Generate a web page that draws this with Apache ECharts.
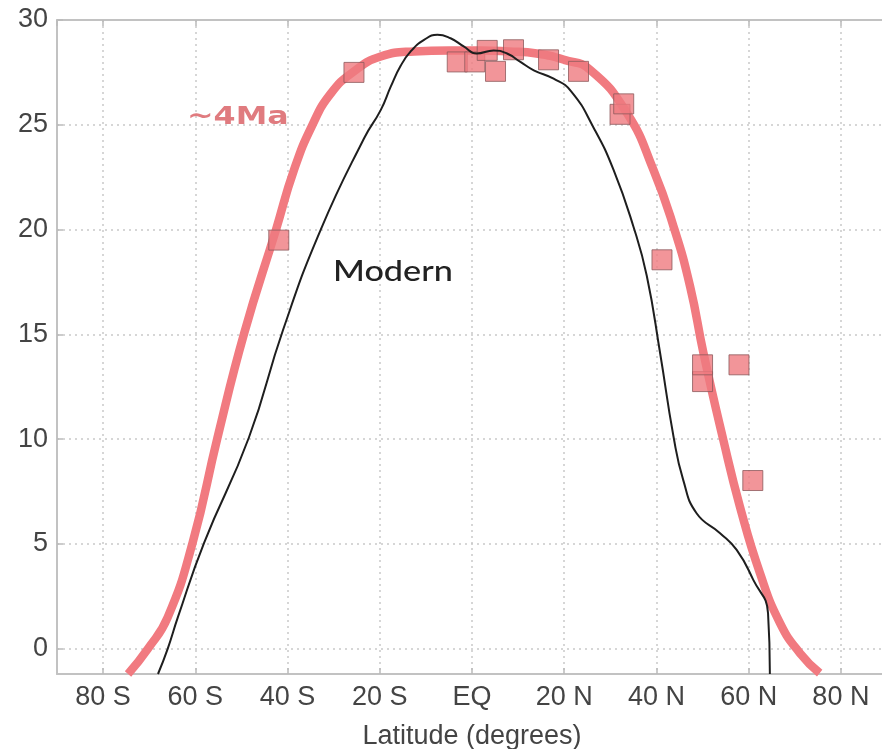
<!DOCTYPE html>
<html>
<head>
<meta charset="utf-8">
<script src="https://cdn.jsdelivr.net/npm/echarts@6/dist/echarts.min.js"></script>
<style>
  html, body { margin: 0; padding: 0; background: #ffffff; }
  #chart { width: 882px; height: 749px; }
</style>
</head>
<body>
<div id="chart"></div>
<script>
// ~4Ma fitted curve (latitude, degrees; temperature)
const redLat = [-74.6, -70.3, -66, -60.6, -55.2, -49.4, -42.5, -38.6, -34.6, -30.6, -25.6, -19.8, -12.6, -5, 2, 8, 14, 20, 25.65, 33.6, 39.35, 43.7, 47.3, 50.2, 54.5, 58.1, 62.45, 66.8, 71.1, 75.4];
const redVal = [-1.2, 0, 1.5, 5.06, 10.07, 15.06, 20.0, 22.85, 25.0, 26.5, 27.55, 28.26, 28.5, 28.55, 28.55, 28.5, 28.4, 28.1, 27.62, 25.56, 22.85, 20.15, 17.29, 14.11, 9.97, 6.79, 3.61, 1.23, -0.2, -1.16];

// Modern curve
const modernLat = [-68.1, -66, -63.8, -58.1, -48.4, -41, -32.8, -23.4, -19.8, -17.6, -15.5, -13.3, -10.4, -7.5, -4.65, -1.8, 1.0, 4.7, 7.6, 10.5, 13.4, 17.7, 21.5, 26.4, 30.7, 35, 37.9, 40.8, 43.7, 45.8, 48.7, 53.8, 57.4, 61, 64.2, 64.6];
const modernVal = [-1.2, 0, 1.5, 5.06, 10.07, 15.2, 20, 24.36, 25.7, 26.83, 27.8, 28.5, 29.05, 29.3, 29.13, 28.74, 28.4, 28.55, 28.4, 28.0, 27.6, 27.2, 26.6, 24.85, 22.85, 20.15, 17.8, 14.1, 10.13, 8.06, 6.47, 5.52, 4.72, 3.29, 1.7, -1.2];

// ~4Ma proxy data points
const proxyLat = [-41.9, -25.6, -3.2, 0.6, 3.3, 5.1, 9.0, 16.6, 23.1, 32.1, 32.9, 41.2, 50.0, 50.0, 57.9, 60.9];
const proxyVal = [19.5, 27.5, 28.0, 28.0, 28.55, 27.55, 28.58, 28.1, 27.55, 25.5, 26.0, 18.56, 12.75, 13.55, 13.55, 8.03];

// tick labels
const xTickValues = [-80, -60, -40, -20, 0, 20, 40, 60, 80];
const xTickLabels = ['80 S', '60 S', '40 S', '20 S', 'EQ', '20 N', '40 N', '60 N', '80 N'];
const yTickValues = [0, 5, 10, 15, 20, 25, 30];
const yTickLabels = ['0', '5', '10', '15', '20', '25', '30'];

const xAxisTitle = 'Latitude (degrees)';
const redLabel = '~4Ma';
const modernLabel = 'Modern';

const zip = (a, b) => a.map((v, i) => [v, b[i]]);

const chart = echarts.init(document.getElementById('chart'), null, { renderer: 'canvas' });

const labelFont = '"Liberation Sans", Arial, Helvetica, sans-serif';
const gridColor = '#c9c9c9';
const frameColor = '#c2c2c2';

chart.setOption({
  animation: false,
  backgroundColor: '#ffffff',
  grid: { left: 57, top: 20, right: -5, bottom: 75, containLabel: false, outerBoundsMode: 'none' },
  xAxis: [{
    type: 'value',
    min: -90, max: 90, splitNumber: 9,
    name: xAxisTitle,
    nameLocation: 'middle',
    nameGap: 49,
    nameTextStyle: { fontSize: 27, color: '#444', fontFamily: labelFont },
    axisLine: { show: true, onZero: false, lineStyle: { color: frameColor, width: 2 } },
    axisTick: { show: true, inside: true, length: 6, lineStyle: { color: '#bbb', width: 1.5 } },
    axisLabel: {
      show: true, margin: 10, fontSize: 27, color: '#444', fontFamily: labelFont,
      showMinLabel: false, showMaxLabel: false,
      formatter: v => { const i = xTickValues.indexOf(v); return i >= 0 ? xTickLabels[i] : ''; }
    },
    splitLine: { show: true, lineStyle: { color: gridColor, width: 1.5, type: [2, 4] } }
  }, {
    type: 'value', position: 'top',
    min: -90, max: 90, splitNumber: 9,
    axisLine: { show: true, onZero: false, lineStyle: { color: frameColor, width: 2 } },
    axisTick: { show: true, inside: true, length: 6, lineStyle: { color: '#bbb', width: 1.5 } },
    axisLabel: { show: false },
    splitLine: { show: false }
  }],
  yAxis: {
    type: 'value',
    min: -1.2, max: 30, splitNumber: 6,
    axisLine: { show: true, onZero: false, lineStyle: { color: frameColor, width: 2 } },
    axisTick: { show: true, inside: true, length: 6, lineStyle: { color: '#bbb', width: 1.5 } },
    axisLabel: {
      show: true, margin: 9, fontSize: 27, color: '#444', fontFamily: labelFont,
      showMinLabel: false,
      formatter: v => { const i = yTickValues.indexOf(v); return i >= 0 ? yTickLabels[i] : ''; }
    },
    splitLine: { show: true, lineStyle: { color: gridColor, width: 1.5, type: [2, 4] } }
  },
  series: [{
    name: redLabel,
    type: 'line',
    data: zip(redLat, redVal),
    smooth: 0.5,
    symbol: 'none',
    clip: true,
    lineStyle: { color: '#f17a80', width: 8.5 },
    z: 2
  }, {
    name: 'proxy',
    type: 'scatter',
    data: zip(proxyLat, proxyVal),
    symbol: 'rect',
    symbolSize: 20,
    itemStyle: { color: '#ef7b80', borderColor: '#8c5a5c', borderWidth: 1 },
    z: 3
  }, {
    name: modernLabel,
    type: 'line',
    data: zip(modernLat, modernVal),
    smooth: 0.5,
    symbol: 'none',
    clip: true,
    lineStyle: { color: '#1e1e1e', width: 2 },
    z: 4
  }],
  graphic: [{
    type: 'text',
    x: 187, y: 117,
    scaleX: 1.27,
    style: {
      text: redLabel,
      font: 'bold 25px "DejaVu Sans", sans-serif',
      fill: '#e07b7f',
      textVerticalAlign: 'middle'
    },
    z: 10
  }, {
    type: 'text',
    x: 333, y: 272,
    scaleX: 1.18,
    style: {
      text: modernLabel,
      font: '500 29px Lato, "Open Sans", sans-serif',
      fill: '#222',
      textVerticalAlign: 'middle'
    },
    z: 10
  }]
});
</script>
</body>
</html>
